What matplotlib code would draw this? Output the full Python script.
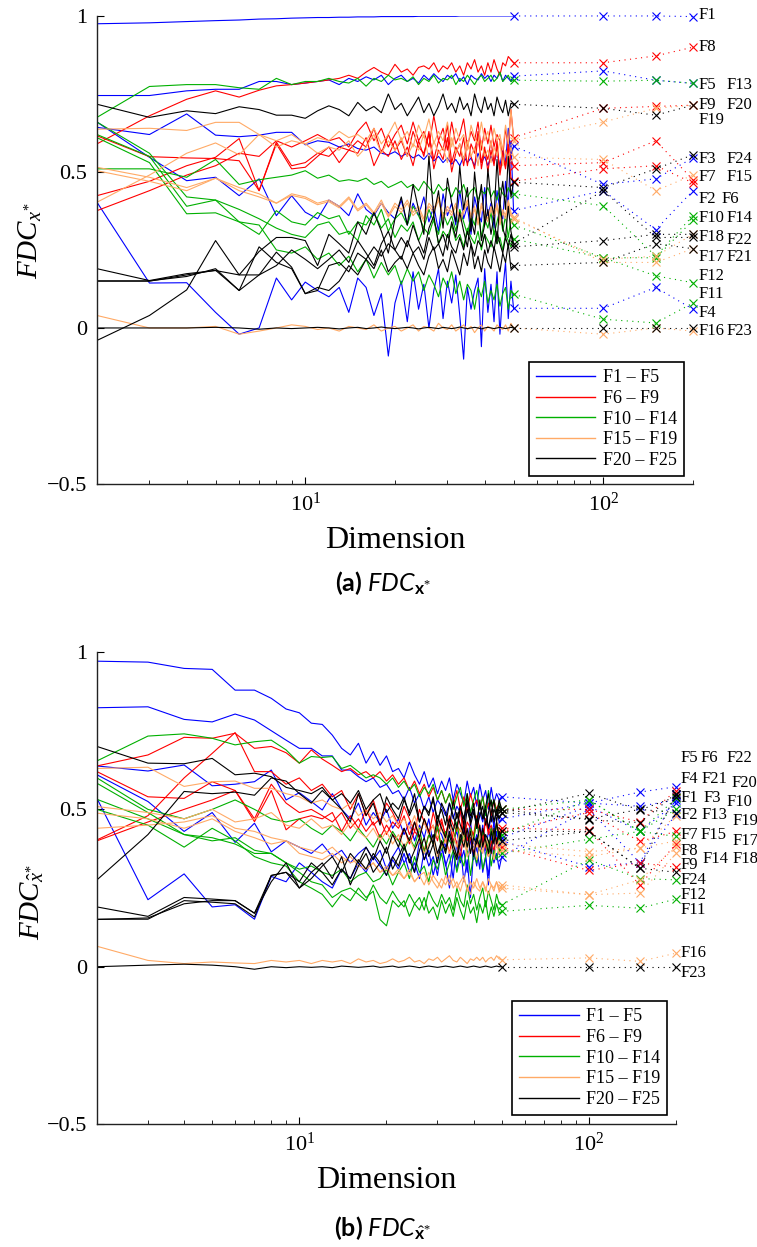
import matplotlib
matplotlib.use('Agg')
import matplotlib.pyplot as plt
from matplotlib.lines import Line2D
from matplotlib.ticker import NullFormatter

plt.rcParams['font.family'] = ['Liberation Serif', 'DejaVu Serif']
plt.rcParams['mathtext.fontset'] = 'custom'
plt.rcParams['mathtext.rm'] = 'Liberation Serif'
plt.rcParams['mathtext.it'] = 'Liberation Serif:italic'
plt.rcParams['mathtext.bf'] = 'Lato:bold'
plt.rcParams['mathtext.sf'] = 'Lato:italic'

# dimensions: every D from 2 to 50, then the three large runs
dims = list(range(2, 51)) + [100, 150, 200]

# ---- (a) FDC of x* : one list per function, values at dims ----
a1 = [.975, .978, .982, .985, .987, .990, .991, .993, .994, .995,
      .995, .996, .996, .997, .997, .997, .998, .998, .998, .998,
      .998, .998, .999, .999, .999, .999, .999, .999, .999, .999,
      .999, 1, 1, 1, 1, 1, 1, 1, 1, 1,
      1, 1, 1, 1, 1, 1, 1, 1, 1,
      1, 1, .998]
a2 = [.66, .547, .472, .483, .424, .478, .36, .424, .371, .35,
      .41, .39, .36, .43, .38, .36, .40, .37, .35, .41,
      .33, .40, .36, .42, .34, .39, .31, .43, .36, .40,
      .33, .44, .35, .39, .30, .42, .37, .34, .45, .36,
      .40, .32, .44, .38, .35, .47, .39, .60, .376,
      .44, .315, .44]
a3 = [.643, .62, .686, .618, .613, .618, .627, .627, .587, .60,
      .595, .58, .59, .575, .57, .58, .56, .555, .565, .55,
      .56, .545, .555, .54, .56, .535, .55, .53, .545, .525,
      .54, .52, .55, .53, .545, .52, .56, .53, .55, .52,
      .55, .53, .56, .52, .57, .53, .64, .55, .583,
      .46, .478, .545]
a4 = [.403, .144, .145, .05, -.02, 0, .16, .09, .147, .12,
      .10, .13, .05, .16, .13, .04, .11, -.09, .08, .15,
      .02, .18, .06, .14, 0, .12, .19, .03, .15, .08,
      .17, .04, -.10, .13, .06, .12, .16, -.06, .19, .05,
      .14, .02, .18, -.02, .12, .21, .03, .15, .063,
      .063, .13, .06]
a5 = [.745, .745, .76, .765, .765, .79, .79, .78, .785, .79,
      .795, .78, .80, .79, .805, .795, .81, .78, .80, .81,
      .79, .80, .785, .81, .795, .815, .80, .79, .81, .80,
      .815, .79, .805, .78, .81, .80, .795, .815, .80, .81,
      .79, .81, .80, .82, .79, .81, .80, .79, .807,
      .824, .794, .784]
a6 = [.616, .549, .545, .543, .536, .44, .59, .51, .515, .55,
      .58, .53, .57, .56, .61, .52, .57, .55, .60, .54,
      .58, .52, .60, .55, .63, .51, .57, .54, .61, .50,
      .56, .59, .52, .60, .55, .51, .62, .53, .58, .50,
      .57, .52, .60, .49, .55, .51, .58, .48, .47,
      .51, .52, .465]
a7 = [.424, .47, .52, .547, .607, .44, .596, .52, .53, .56,
      .55, .58, .57, .60, .58, .64, .56, .62, .57, .60,
      .55, .63, .58, .56, .62, .54, .60, .57, .65, .53,
      .58, .55, .61, .52, .59, .56, .63, .51, .57, .54,
      .60, .53, .58, .50, .56, .52, .59, .54, .52,
      .53, .60, .475]
a8 = [.59, .68, .733, .76, .74, .762, .776, .78, .785, .79,
      .795, .80, .81, .80, .82, .835, .82, .81, .845, .82,
      .83, .81, .835, .84, .83, .85, .82, .84, .83, .85,
      .82, .84, .81, .85, .83, .86, .82, .84, .81, .85,
      .82, .86, .83, .81, .85, .84, .87, .86, .85,
      .85, .872, .90]
a9 = [.376, .44, .49, .52, .56, .55, .60, .58, .60, .62,
      .60, .61, .58, .63, .66, .60, .64, .58, .62, .65,
      .59, .66, .60, .63, .58, .68, .60, .64, .57, .66,
      .59, .62, .67, .58, .63, .60, .66, .57, .64, .59,
      .65, .58, .62, .60, .55, .64, .58, .70, .61,
      .704, .71, .714]
a10 = [.51, .51, .483, .54, .46, .475, .483, .49, .504, .48,
       .49, .47, .475, .47, .48, .46, .47, .45, .46, .47,
       .45, .46, .44, .47, .45, .43, .46, .44, .45, .42,
       .45, .43, .46, .42, .44, .45, .41, .44, .43, .45,
       .42, .44, .41, .45, .43, .42, .45, .43, .43,
       .392, .23, .36]
a11 = [.61, .53, .366, .369, .34, .33, .25, .24, .26, .22,
       .24, .20, .23, .18, .22, .16, .21, .17, .20, .14,
       .19, .15, .18, .12, .17, .14, .10, .16, .13, .18,
       .11, .15, .09, .14, .12, .06, .13, .10, .15, .08,
       .12, .09, .14, .07, .11, .13, .06, .12, .108,
       .028, .016, .08]
a12 = [.62, .55, .39, .41, .34, .30, .376, .34, .33, .37,
       .35, .36, .30, .34, .33, .37, .32, .35, .29, .33,
       .31, .34, .28, .32, .30, .35, .27, .31, .29, .33,
       .28, .30, .26, .32, .29, .27, .31, .25, .30, .28,
       .26, .31, .27, .29, .25, .30, .28, .26, .285,
       .225, .167, .145]
a13 = [.675, .774, .78, .78, .77, .765, .80, .78, .79, .79,
       .80, .79, .785, .80, .775, .80, .79, .81, .795, .80,
       .79, .805, .78, .80, .79, .81, .785, .80, .795, .81,
       .78, .80, .79, .81, .795, .78, .80, .81, .79, .80,
       .81, .79, .80, .82, .79, .80, .81, .79, .794,
       .791, .794, .784]
a14 = [.66, .56, .42, .41, .38, .35, .32, .30, .29, .33,
       .34, .30, .31, .28, .36, .33, .38, .31, .35, .37,
       .33, .39, .36, .32, .38, .34, .30, .37, .33, .36,
       .31, .38, .34, .30, .36, .33, .39, .29, .35, .32,
       .37, .30, .34, .38, .31, .36, .29, .35, .33,
       .225, .225, .345]
a15 = [.403, .49, .56, .593, .555, .62, .58, .60, .59, .56,
       .58, .57, .60, .55, .58, .62, .56, .60, .57, .61,
       .55, .59, .57, .62, .54, .60, .56, .58, .53, .61,
       .56, .59, .54, .60, .55, .58, .52, .60, .55, .57,
       .53, .58, .55, .60, .52, .57, .54, .58, .547,
       .54, .44, .49]
a16 = [.04, 0, 0, .005, -.02, -.01, 0, .01, .005, -.005,
       0, -.01, .005, 0, -.005, .01, -.01, 0, .005, -.01,
       0, .01, -.01, .005, 0, -.01, .015, 0, -.005, .01,
       -.01, 0, .01, -.005, .005, -.015, 0, .01, -.01, .005,
       0, -.01, .01, 0, -.005, .01, -.01, .015, 0,
       -.02, 0, -.01]
a17 = [.515, .483, .45, .48, .45, .43, .40, .43, .42, .40,
       .41, .39, .42, .38, .40, .37, .41, .36, .40, .38,
       .41, .37, .39, .35, .40, .38, .42, .36, .39, .37,
       .40, .35, .38, .41, .36, .39, .34, .40, .37, .35,
       .39, .36, .40, .34, .38, .36, .41, .37, .355,
       .21, .21, .254]
a18 = [.504, .47, .44, .48, .44, .42, .40, .425, .415, .395,
       .405, .385, .415, .375, .395, .365, .40, .355, .39, .37,
       .40, .36, .38, .34, .39, .37, .41, .35, .38, .36,
       .39, .34, .37, .40, .35, .38, .33, .39, .36, .34,
       .38, .35, .39, .33, .37, .35, .40, .36, .35,
       .22, .23, .30]
a19 = [.637, .64, .633, .659, .659, .62, .60, .62, .59, .61,
       .60, .63, .61, .62, .60, .64, .59, .62, .66, .60,
       .63, .58, .65, .61, .67, .59, .63, .60, .66, .58,
       .64, .60, .62, .57, .65, .61, .59, .66, .60, .63,
       .58, .64, .60, .62, .57, .65, .59, .70, .60,
       .66, .704, .714]
a20 = [.717, .675, .696, .687, .709, .70, .682, .682, .672, .696,
       .712, .70, .68, .723, .696, .71, .69, .75, .70, .72,
       .68, .71, .74, .69, .72, .68, .71, .75, .70, .72,
       .69, .74, .70, .72, .68, .75, .71, .69, .74, .70,
       .72, .68, .74, .71, .69, .73, .68, .72, .717,
       .704, .682, .714]
a21 = [.151, .151, .165, .19, .12, .26, .21, .19, .11, .13,
       .12, .15, .20, .17, .22, .19, .25, .18, .21, .23,
       .19, .24, .20, .17, .23, .26, .19, .22, .18, .25,
       .21, .17, .24, .20, .27, .19, .23, .18, .25, .21,
       .19, .26, .22, .18, .24, .21, .27, .19, .20,
       .21, .27, .254]
a22 = [.19, .152, .174, .184, .17, .17, .243, .195, .11, .12,
       .20, .21, .18, .24, .22, .26, .23, .27, .25, .22,
       .28, .24, .26, .22, .29, .25, .27, .23, .30, .26,
       .24, .29, .25, .31, .27, .23, .28, .26, .30, .24,
       .28, .25, .31, .27, .24, .29, .26, .30, .26,
       .28, .30, .30]
a23 = [0, 0, 0, .002, 0, -.004, 0, -.002, 0, .002,
       0, -.003, 0, .002, -.002, 0, .003, 0, -.002, 0,
       .002, 0, -.003, 0, .002, 0, -.002, .002, 0, -.002,
       0, .003, 0, -.002, 0, .002, 0, -.003, 0, .002,
       0, -.002, 0, .002, 0, -.002, 0, .002, 0,
       0, 0, 0]
a24 = [-.04, .04, .122, .28, .17, .245, .29, .29, .28, .20,
       .30, .27, .24, .34, .30, .37, .31, .24, .35, .42,
       .33, .46, .38, .30, .55, .36, .44, .32, .48, .40,
       .34, .52, .38, .45, .31, .50, .39, .46, .33, .51,
       .41, .36, .54, .40, .47, .38, .55, .42, .467,
       .45, .51, .555]
a25 = [.15, .15, .17, .185, .12, .17, .20, .25, .22, .19,
       .22, .25, .21, .28, .24, .20, .27, .31, .25, .29,
       .26, .33, .28, .24, .32, .36, .27, .30, .25, .34,
       .29, .37, .31, .26, .35, .30, .40, .28, .33, .38,
       .30, .36, .27, .41, .32, .29, .39, .31, .27,
       .44, .29, .29]

# ---- (b) FDC of x-hat* ----
b1 = [.823, .826, .786, .778, .803, .784, .75, .72, .694, .694,
      .67, .67, .625, .625, .604, .588, .60, .57, .58, .55,
      .56, .53, .57, .52, .55, .50, .54, .49, .53, .51,
      .48, .52, .47, .51, .49, .45, .52, .47, .50, .44,
      .49, .46, .51, .43, .48, .45, .50, .46, .47,
      .52, .51, .53]
b2 = [.61, .525, .43, .49, .395, .456, .365, .40, .38, .36,
      .39, .35, .37, .33, .36, .38, .34, .37, .31, .35,
      .38, .33, .36, .30, .40, .34, .37, .29, .35, .39,
      .32, .36, .28, .40, .33, .37, .30, .41, .34, .38,
      .31, .42, .35, .29, .39, .36, .43, .37, .40,
      .318, .33, .485]
b3 = [.638, .622, .641, .575, .58, .588, .625, .53, .553, .525,
      .498, .55, .50, .47, .52, .45, .49, .46, .50, .44,
      .47, .42, .46, .40, .45, .41, .47, .39, .44, .42,
      .38, .45, .40, .43, .37, .44, .40, .46, .38, .42,
      .39, .45, .37, .43, .40, .46, .38, .42, .41,
      .51, .43, .52]
b4 = [.535, .213, .295, .19, .197, .151, .287, .27, .33, .30,
      .27, .25, .31, .28, .33, .30, .35, .32, .29, .34,
      .31, .36, .30, .33, .28, .37, .32, .35, .29, .38,
      .33, .25, .36, .31, .39, .27, .34, .22, .37, .32,
      .40, .30, .35, .26, .38, .33, .36, .31, .35,
      .50, .33, .545]
b5 = [.971, .968, .948, .945, .879, .879, .853, .819, .807, .774,
      .77, .736, .694, .673, .71, .647, .684, .64, .67, .62,
      .63, .60, .65, .61, .58, .62, .57, .60, .55, .59,
      .56, .60, .53, .58, .55, .52, .59, .54, .57, .51,
      .58, .53, .56, .50, .57, .52, .55, .53, .54,
      .52, .555, .572]
b6 = [.638, .673, .729, .726, .742, .694, .70, .68, .647, .689,
      .66, .64, .62, .63, .61, .62, .60, .62, .59, .61,
      .58, .60, .56, .59, .55, .58, .54, .57, .53, .56,
      .52, .55, .51, .56, .50, .54, .49, .55, .51, .53,
      .50, .54, .49, .52, .48, .53, .50, .52, .50,
      .50, .46, .56]
b7 = [.62, .54, .535, .588, .56, .461, .56, .435, .47, .48,
      .47, .49, .43, .48, .44, .50, .45, .47, .42, .46,
      .44, .48, .42, .46, .41, .47, .43, .45, .40, .46,
      .42, .47, .39, .45, .43, .48, .40, .44, .41, .46,
      .43, .39, .47, .42, .44, .40, .45, .42, .43,
      .49, .398, .43]
b8 = [.403, .48, .60, .678, .744, .62, .62, .58, .60, .56,
      .58, .54, .56, .50, .55, .48, .53, .46, .52, .49,
      .45, .51, .47, .43, .50, .46, .42, .49, .44, .47,
      .41, .48, .45, .43, .50, .40, .46, .44, .42, .48,
      .44, .41, .47, .43, .45, .40, .46, .42, .44,
      .435, .26, .39]
b9 = [.40, .46, .50, .53, .56, .47, .58, .52, .49, .50,
      .48, .46, .49, .44, .47, .43, .46, .41, .45, .42,
      .40, .44, .39, .43, .41, .37, .42, .39, .44, .38,
      .41, .36, .43, .39, .35, .42, .38, .41, .36, .40,
      .37, .42, .38, .35, .40, .37, .41, .36, .38,
      .306, .33, .316]
b10 = [.60, .50, .47, .50, .53, .50, .47, .46, .47, .44,
       .42, .45, .43, .40, .44, .41, .38, .42, .39, .43,
       .40, .37, .41, .38, .44, .36, .42, .39, .45, .37,
       .43, .40, .38, .46, .39, .42, .37, .44, .40, .47,
       .38, .43, .41, .36, .44, .40, .46, .39, .42,
       .53, .43, .535]
b11 = [.50, .45, .38, .44, .40, .35, .33, .32, .27, .25,
       .23, .19, .23, .21, .25, .22, .24, .15, .13, .21,
       .19, .21, .16, .20, .18, .22, .17, .19, .15, .21,
       .17, .20, .16, .22, .18, .15, .21, .17, .19, .14,
       .20, .17, .21, .15, .19, .16, .20, .17, .176,
       .195, .186, .215]
b12 = [.532, .47, .42, .41, .39, .36, .36, .33, .30, .27,
       .26, .22, .24, .25, .23, .21, .26, .22, .20, .24,
       .21, .19, .23, .20, .22, .18, .24, .21, .19, .23,
       .20, .22, .18, .25, .21, .19, .26, .20, .23, .18,
       .22, .25, .19, .24, .21, .18, .23, .20, .197,
       .34, .28, .276]
b13 = [.654, .733, .74, .726, .705, .715, .72, .689, .647, .668,
       .665, .668, .63, .64, .62, .60, .61, .60, .58, .60,
       .57, .59, .56, .58, .54, .57, .55, .58, .53, .56,
       .52, .55, .50, .54, .57, .51, .55, .49, .53, .56,
       .50, .54, .48, .56, .51, .53, .49, .52, .50,
       .53, .43, .50]
b14 = [.583, .49, .42, .40, .41, .37, .36, .33, .31, .32,
       .30, .29, .31, .27, .29, .30, .27, .28, .31, .26,
       .30, .33, .28, .35, .30, .32, .27, .34, .31, .36,
       .29, .33, .37, .30, .35, .32, .38, .29, .36, .33,
       .39, .31, .35, .40, .32, .37, .34, .38, .36,
       .405, .43, .414]
b15 = [.509, .49, .47, .50, .46, .47, .49, .45, .44, .47,
       .44, .45, .42, .46, .43, .41, .44, .40, .43, .39,
       .42, .38, .41, .37, .40, .36, .39, .41, .35, .38,
       .40, .36, .39, .34, .38, .41, .35, .37, .39, .34,
       .38, .36, .40, .35, .37, .34, .39, .36, .37,
       .35, .377, .40]
b16 = [.065, .02, .01, .015, .012, .01, .02, .015, .02, .01,
       .02, .015, .02, .01, .025, .015, .02, .01, .015, .025,
       .015, .02, .03, .015, .02, .01, .025, .02, .03, .015,
       .025, .035, .02, .015, .03, .02, .01, .025, .02, .03,
       .02, .03, .015, .025, .03, .02, .035, .025, .022,
       .028, .017, .043]
b17 = [.488, .47, .44, .47, .43, .41, .39, .40, .36, .35,
       .34, .36, .33, .35, .32, .31, .33, .30, .31, .29,
       .30, .28, .31, .27, .29, .30, .26, .29, .27, .25,
       .29, .26, .28, .25, .27, .29, .24, .27, .25, .28,
       .25, .27, .24, .28, .26, .25, .27, .24, .26,
       .229, .276, .38]
b18 = [.44, .45, .46, .48, .44, .43, .41, .40, .38, .37,
       .36, .38, .35, .33, .34, .31, .33, .30, .32, .29,
       .31, .28, .30, .27, .29, .26, .30, .27, .25, .28,
       .26, .29, .25, .27, .24, .28, .25, .23, .27, .25,
       .24, .27, .25, .23, .26, .24, .27, .25, .25,
       .229, .234, .36]
b19 = [.63, .634, .573, .588, .59, .567, .567, .55, .54, .52,
       .53, .51, .50, .52, .48, .50, .47, .49, .46, .48,
       .45, .47, .44, .48, .43, .46, .42, .45, .41, .44,
       .40, .45, .42, .38, .44, .41, .37, .43, .40, .38,
       .42, .37, .41, .39, .36, .42, .38, .40, .39,
       .366, .377, .48]
b20 = [.70, .647, .645, .662, .61, .615, .604, .57, .56, .55,
       .57, .53, .55, .52, .56, .50, .53, .55, .49, .52,
       .50, .54, .48, .52, .46, .51, .49, .53, .47, .50,
       .45, .52, .48, .44, .51, .47, .53, .45, .49, .46,
       .52, .47, .50, .44, .49, .53, .46, .51, .49,
       .551, .498, .54]
b21 = [.19, .16, .22, .215, .21, .17, .29, .30, .25, .30,
       .33, .28, .35, .26, .32, .36, .30, .33, .38, .31,
       .35, .39, .33, .37, .41, .34, .38, .42, .36, .40,
       .37, .43, .39, .35, .42, .38, .44, .36, .41, .39,
       .45, .38, .42, .40, .36, .44, .39, .43, .40,
       .43, .313, .55]
b22 = [.276, .42, .557, .55, .555, .545, .60, .59, .55, .52,
       .56, .53, .50, .46, .55, .48, .52, .45, .54, .50,
       .47, .53, .49, .55, .46, .51, .48, .54, .45, .52,
       .49, .44, .53, .47, .51, .45, .55, .48, .50, .44,
       .53, .47, .51, .55, .46, .50, .48, .53, .50,
       .467, .458, .55]
b23 = [0, .005, .008, .005, 0, -.008, 0, -.003, 0, -.002,
       0, -.003, .002, 0, -.002, 0, .002, -.002, 0, .002,
       -.002, 0, .002, 0, -.003, 0, .002, 0, -.002, 0,
       .002, 0, -.002, 0, .002, 0, -.002, 0, .002, 0,
       -.002, 0, .002, 0, -.002, 0, .002, 0, 0,
       0, 0, 0]
b24 = [.151, .151, .21, .205, .20, .158, .29, .30, .27, .33,
       .30, .26, .31, .28, .34, .31, .36, .33, .29, .35,
       .32, .38, .34, .30, .37, .41, .35, .39, .33, .40,
       .36, .42, .37, .34, .40, .45, .38, .43, .35, .41,
       .38, .44, .40, .36, .43, .39, .46, .41, .43,
       .43, .313, .30]
b25 = [.15, .155, .20, .21, .21, .17, .27, .33, .25, .28,
       .32, .35, .30, .36, .33, .38, .34, .40, .36, .42,
       .38, .44, .40, .46, .41, .47, .43, .39, .48, .44,
       .41, .47, .43, .49, .45, .42, .50, .46, .52, .44,
       .48, .51, .45, .49, .53, .46, .50, .47, .49,
       .47, .50, .49]

series_a = [a1, a2, a3, a4, a5, a6, a7, a8, a9, a10, a11, a12, a13,
            a14, a15, a16, a17, a18, a19, a20, a21, a22, a23, a24, a25]
series_b = [b1, b2, b3, b4, b5, b6, b7, b8, b9, b10, b11, b12, b13,
            b14, b15, b16, b17, b18, b19, b20, b21, b22, b23, b24, b25]

group_names = ['F1 \u2013 F5', 'F6 \u2013 F9', 'F10 \u2013 F14',
               'F15 \u2013 F19', 'F20 \u2013 F25']
group_sizes = [5, 4, 5, 5, 6]
group_colors = ['#0000ff', '#ff0000', '#00b000', '#ffaa66', '#000000']

# function labels at D=200: (text, y, x-offset in pixels)
tags_a = [('F1', 1.003, 6), ('F8', .90, 6), ('F5', .778, 6), ('F13', .778, 34),
          ('F9', .714, 6), ('F20', .714, 34), ('F19', .668, 6),
          ('F3', .542, 6), ('F24', .542, 34), ('F7', .483, 6), ('F15', .483, 34),
          ('F2', .414, 6), ('F6', .414, 29), ('F10', .353, 6), ('F14', .353, 34),
          ('F18', .293, 6), ('F22', .283, 34), ('F17', .226, 6), ('F21', .226, 34),
          ('F12', .167, 6), ('F11', .109, 6), ('F4', .049, 6),
          ('F16', -.01, 6), ('F23', -.01, 34)]
tags_b = [('F5', .663, 5), ('F6', .663, 25), ('F22', .663, 51),
          ('F4', .596, 5), ('F21', .596, 26), ('F20', .585, 56),
          ('F1', .536, 5), ('F3', .536, 28), ('F10', .525, 51),
          ('F2', .483, 5), ('F13', .483, 26), ('F19', .463, 57),
          ('F7', .419, 5), ('F15', .419, 25), ('F17', .40, 57),
          ('F8', .369, 5), ('F14', .342, 27), ('F18', .342, 57),
          ('F9', .322, 5), ('F24', .274, 5), ('F12', .228, 5),
          ('F11', .179, 5), ('F16', .044, 5), ('F23', -.02, 5)]

colors = []
for c, n in zip(group_colors, group_sizes):
    colors += [c] * n

fig = plt.figure(figsize=(7.57, 12.47), dpi=100)
ax_a = fig.add_axes([0.1281, 0.6119, 0.7873, 0.3753])
ax_b = fig.add_axes([0.1281, 0.0986, 0.7649, 0.3785])

panels = [(ax_a, series_a, tags_a, r'$FDC_{x^{*}}$', 0.52, 0.017),
          (ax_b, series_b, tags_b, r'$FDC_{\hat{x}^{*}}$', 0.47, 0.019)]

for ax, series, tags, ylab, ylab_y, leg_y in panels:
    n = len(dims) - 3
    for y, c in zip(series, colors):
        ax.plot(dims[:n], y[:n], color=c, lw=0.8)
        ax.plot(dims[n - 1:], y[n - 1:], color=c, lw=0.8, ls=(0, (1, 4)),
                marker='x', ms=6, mew=0.8, clip_on=False)
    for txt, yv, dx in tags:
        ax.annotate(txt, xy=(200, yv), xytext=(dx * 0.72, 0),
                    textcoords='offset points', va='center', ha='left',
                    fontsize=12, annotation_clip=False)

    ax.set_xscale('log')
    ax.set_xlim(2, 200)
    ax.set_ylim(-0.5, 1)
    ax.set_yticks([-0.5, 0, 0.5, 1])
    ax.set_yticklabels(['\u22120.5', '0', '0.5', '1'])
    ax.xaxis.set_minor_formatter(NullFormatter())
    ax.tick_params(which='both', direction='in', top=False, right=False,
                   labelsize=16)
    ax.tick_params(which='major', length=5, width=0.8, pad=6)
    ax.tick_params(which='minor', length=3, width=0.6)
    ax.tick_params(axis='y', pad=7)
    for s in ['top', 'right']:
        ax.spines[s].set_visible(False)
    for s in ['left', 'bottom']:
        ax.spines[s].set_linewidth(1.0)
        ax.spines[s].set_color('#222222')

    ax.set_xlabel('Dimension', fontsize=23)
    ax.xaxis.set_label_coords(0.5, -0.12)
    ax.xaxis.label.set_va('center')
    ax.set_ylabel(ylab, fontsize=21)
    ax.yaxis.set_label_coords(-0.112, ylab_y)
    ax.yaxis.label.set_va('center')

    handles = [Line2D([], [], color=c, lw=1.0) for c in group_colors]
    leg = ax.legend(handles, group_names, loc='lower right',
                    bbox_to_anchor=(0.985, leg_y), borderaxespad=0,
                    fontsize=13, frameon=True, fancybox=False,
                    edgecolor='black', framealpha=1, handlelength=3.3,
                    handletextpad=0.4, labelspacing=0.2, borderpad=0.4)
    leg.get_frame().set_linewidth(1.2)

fig.text(0.506, 0.5325, r'$\mathbf{(a)}\ \mathsf{FDC}_{\mathbf{x}^{*}}$',
         ha='center', va='center', fontsize=18)
fig.text(0.506, 0.0152, r'$\mathbf{(b)}\ \mathsf{FDC}_{\hat{\mathbf{x}}^{*}}$',
         ha='center', va='center', fontsize=18)

fig.savefig('out.png', dpi=100)
